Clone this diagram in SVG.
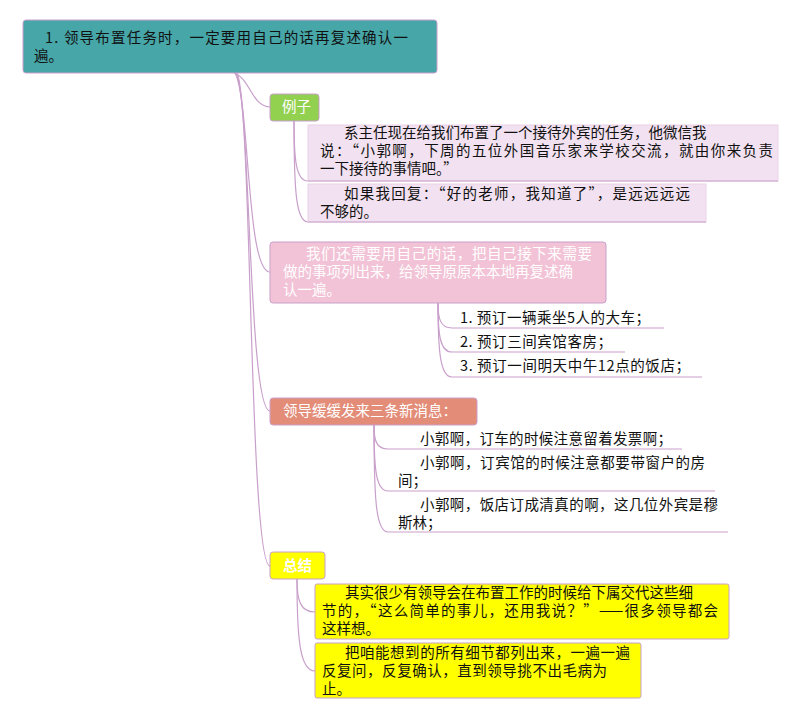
<svg xmlns="http://www.w3.org/2000/svg" width="800" height="719" viewBox="0 0 800 719">
<style>
text{font-family:"Noto Sans CJK SC","Liberation Sans",sans-serif;font-size:14.5px;fill:#111;}
.w{fill:#fff;}
.b{font-weight:bold;}
.c{fill:none;stroke:#C99FCB;stroke-width:1.2;}
.nb{stroke:#C99FCB;stroke-width:1;}
.leaf{fill:#F2E1F0;stroke:#EAD2E8;stroke-width:1;}
.ul{stroke:#C99FCB;stroke-width:1.2;}
</style>
<rect width="800" height="719" fill="#fff"/>
<g id="connectors">
<path class="c" d="M234,73 C250,78 252,107 270,107"/>
<path class="c" d="M235,73 C250,100 246,272 270,272"/>
<path class="c" d="M236,73 C251,100 248,411 270,411"/>
<path class="c" d="M237,73 C252,100 249,566 270,566"/>
<path class="c" d="M294,121 C294,160 296,181 308,181"/>
<path class="c" d="M294,121 C294,190 296,222 308,222"/>
<path class="c" d="M438,303 C438,318 440,328 452,328"/>
<path class="c" d="M438,303 C438,335 440,352 452,352"/>
<path class="c" d="M438,303 C438,350 440,377 452,377"/>
<path class="c" d="M374,425 C374,440 376,449 388,449"/>
<path class="c" d="M374,425 C374,470 376,491 388,491"/>
<path class="c" d="M374,425 C374,500 376,532 388,532"/>
<path class="c" d="M297,579 C297,600 300,612 315,612"/>
<path class="c" d="M297,579 C297,640 300,671 315,671"/>
</g>
<g id="root">
<rect x="23" y="20" width="414" height="53" rx="3" fill="#46A6A8" class="nb"/>
<text x="45" y="43" textLength="363" lengthAdjust="spacing">1. 领导布置任务时，一定要用自己的话再复述确认一</text>
<text x="34" y="61">遍。</text>
</g>
<g id="n-example">
<rect x="270" y="94" width="49" height="27" rx="3" fill="#92D050" class="nb"/>
<text class="w" x="282" y="112">例子</text>
</g>
<g id="leaf-a1">
<rect class="leaf" x="308" y="125" width="470" height="56"/>
<line class="ul" x1="308" y1="181" x2="778" y2="181"/>
<text x="344" y="138">系主任现在给我们布置了一个接待外宾的任务，他微信我</text>
<text x="320" y="156" textLength="453" lengthAdjust="spacing">说：“小郭啊，下周的五位外国音乐家来学校交流，就由你来负责</text>
<text x="320" y="174">一下接待的事情吧。”</text>
</g>
<g id="leaf-a2">
<rect class="leaf" x="308" y="184" width="398" height="38"/>
<line class="ul" x1="308" y1="222" x2="706" y2="222"/>
<text x="344" y="199" textLength="346" lengthAdjust="spacing">如果我回复：“好的老师，我知道了”，是远远远远</text>
<text x="320" y="217">不够的。</text>
</g>
<g id="n-restate">
<rect x="270" y="242" width="336" height="61" rx="3" fill="#F2C3D6" class="nb"/>
<text class="w" x="306" y="259" textLength="286" lengthAdjust="spacing">我们还需要用自己的话，把自己接下来需要</text>
<text class="w" x="283" y="277">做的事项列出来，给领导原原本本地再复述确</text>
<text class="w" x="283" y="295">认一遍。</text>
</g>
<g id="leaf-b1">
<line class="ul" x1="452" y1="328" x2="664" y2="328"/>
<text x="460" y="323" textLength="190" lengthAdjust="spacing">1. 预订一辆乘坐5人的大车；</text>
</g>
<g id="leaf-b2">
<line class="ul" x1="452" y1="352" x2="625" y2="352"/>
<text x="460" y="347" textLength="152" lengthAdjust="spacing">2. 预订三间宾馆客房；</text>
</g>
<g id="leaf-b3">
<line class="ul" x1="452" y1="377" x2="702" y2="377"/>
<text x="460" y="371" textLength="230" lengthAdjust="spacing">3. 预订一间明天中午12点的饭店；</text>
</g>
<g id="n-messages">
<rect x="270" y="398" width="207" height="27" rx="3" fill="#E38C78" class="nb"/>
<text class="w" x="283" y="416">领导缓缓发来三条新消息：</text>
</g>
<g id="leaf-c1">
<line class="ul" x1="388" y1="449" x2="682" y2="449"/>
<text x="420" y="444" textLength="252" lengthAdjust="spacing">小郭啊，订车的时候注意留着发票啊；</text>
</g>
<g id="leaf-c2">
<line class="ul" x1="388" y1="491" x2="715" y2="491"/>
<text x="420" y="468" textLength="285" lengthAdjust="spacing">小郭啊，订宾馆的时候注意都要带窗户的房</text>
<text x="398" y="486">间；</text>
</g>
<g id="leaf-c3">
<line class="ul" x1="388" y1="532" x2="728" y2="532"/>
<text x="420" y="510" textLength="298" lengthAdjust="spacing">小郭啊，饭店订成清真的啊，这几位外宾是穆</text>
<text x="398" y="528">斯林；</text>
</g>
<g id="n-summary">
<rect x="270" y="552" width="55" height="27" rx="3" fill="#FFFF00" class="nb"/>
<text class="w b" x="283" y="571">总结</text>
</g>
<g id="leaf-d1">
<rect x="315" y="584" width="414" height="55" rx="2" fill="#FFFF00" class="nb"/>
<text x="345" y="598">其实很少有领导会在布置工作的时候给下属交代这些细</text>
<text x="322" y="616" textLength="396" lengthAdjust="spacing">节的，“这么简单的事儿，还用我说？”——很多领导都会</text>
<text x="322" y="634">这样想。</text>
</g>
<g id="leaf-d2">
<rect x="315" y="643" width="326" height="55" rx="2" fill="#FFFF00" class="nb"/>
<text x="345" y="658" textLength="285" lengthAdjust="spacing">把咱能想到的所有细节都列出来，一遍一遍</text>
<text x="322" y="676" textLength="285" lengthAdjust="spacing">反复问，反复确认，直到领导挑不出毛病为</text>
<text x="322" y="694">止。</text>
</g>
</svg>
